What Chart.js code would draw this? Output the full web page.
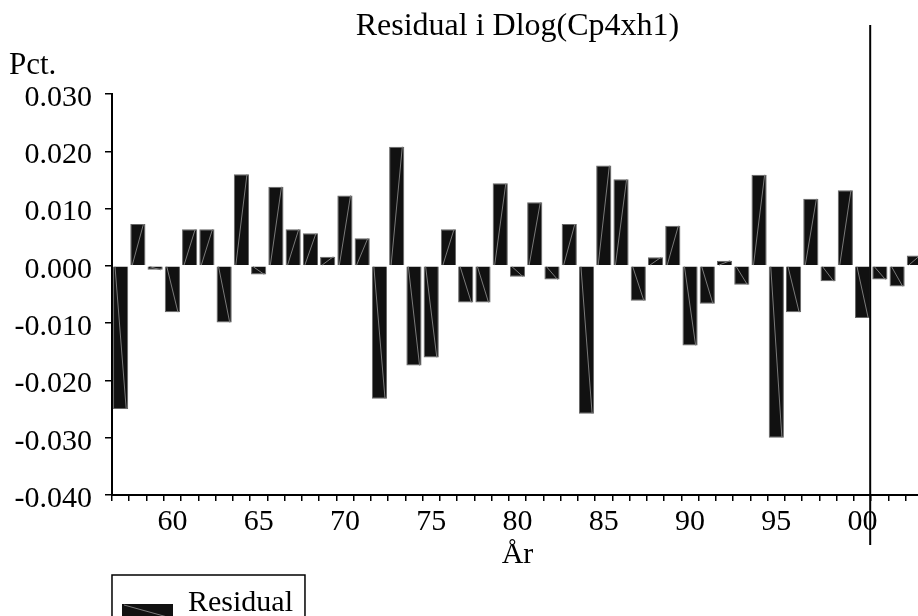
<!DOCTYPE html>
<html>
<head>
<meta charset="utf-8">
<title>Residual i Dlog(Cp4xh1)</title>
<script src="https://cdn.jsdelivr.net/npm/chart.js@4.4.0/dist/chart.umd.min.js"></script>
<style>
  html, body { margin: 0; padding: 0; background: #fff; overflow: hidden; }
</style>
</head>
<body>
<canvas id="chart" width="945" height="640"></canvas>
<script>
const years = [
  1957, 1958, 1959, 1960, 1961, 1962, 1963, 1964, 1965, 1966,
  1967, 1968, 1969, 1970, 1971, 1972, 1973, 1974, 1975, 1976,
  1977, 1978, 1979, 1980, 1981, 1982, 1983, 1984, 1985, 1986,
  1987, 1988, 1989, 1990, 1991, 1992, 1993, 1994, 1995, 1996,
  1997, 1998, 1999, 2000, 2001, 2002, 2003
];
const residuals = [
  -0.0250, 0.0073, -0.0007, -0.0081, 0.0064, 0.0064, -0.0099, 0.0160, -0.0015, 0.0138,
  0.0064, 0.0057, 0.0016, 0.0123, 0.0048, -0.0232, 0.0208, -0.0174, -0.0160, 0.0064,
  -0.0064, -0.0064, 0.0144, -0.0019, 0.0111, -0.0024, 0.0073, -0.0258, 0.0175, 0.0151,
  -0.0061, 0.0015, 0.0070, -0.0139, -0.0066, 0.0009, -0.0033, 0.0159, -0.0300, -0.0081,
  0.0117, -0.0027, 0.0132, -0.0091, -0.0024, -0.0036, 0.0018
];
const labeledYears = [1960, 1965, 1970, 1975, 1980, 1985, 1990, 1995, 2000];
const markYear = 2000;

const serif = "'Liberation Serif', 'Times New Roman', serif";
Chart.defaults.font.family = serif;
Chart.defaults.font.size = 30;
Chart.defaults.color = '#000';

// diagonal hatch inside bars, the marker line, "Pct." and the framed legend
const decorations = {
  id: 'decorations',
  afterDatasetsDraw(chart) {
    const ctx = chart.ctx;
    const meta = chart.getDatasetMeta(0);
    ctx.save();
    ctx.strokeStyle = '#7a7a7a';
    ctx.lineWidth = 1;
    meta.data.forEach(bar => {
      const { x, y, base, width } = bar.getProps(['x', 'y', 'base', 'width'], true);
      ctx.beginPath();
      ctx.moveTo(x - width / 2 + 2, base);
      ctx.lineTo(x + width / 2 - 2, y);
      ctx.stroke();
    });
    ctx.restore();
  },
  afterDraw(chart) {
    const ctx = chart.ctx;
    const area = chart.chartArea;
    const meta = chart.getDatasetMeta(0);
    ctx.save();

    const mark = meta.data[years.indexOf(markYear)];
    const mx = mark.x + mark.width / 2;
    ctx.strokeStyle = '#000';
    ctx.lineWidth = 2;
    ctx.beginPath();
    ctx.moveTo(mx, 25);
    ctx.lineTo(mx, 545);
    ctx.stroke();

    ctx.font = '31px ' + serif;
    ctx.fillStyle = '#000';
    ctx.textBaseline = 'alphabetic';
    ctx.textAlign = 'left';
    ctx.fillText('Pct.', 9, 74);

    ctx.font = '30px ' + serif;
    const text = chart.data.datasets[0].label;
    const tw = ctx.measureText(text).width;
    const sx = area.left + 10, sy = 604, sw = 51, sh = 15;
    ctx.fillStyle = '#111';
    ctx.fillRect(sx, sy, sw, sh);
    ctx.strokeStyle = '#7a7a7a';
    ctx.lineWidth = 1;
    ctx.beginPath();
    ctx.moveTo(sx + 2, sy + 1);
    ctx.lineTo(sx + sw - 2, sy + sh - 1);
    ctx.stroke();
    ctx.fillStyle = '#000';
    ctx.fillText(text, sx + sw + 15, 611);
    ctx.strokeStyle = '#000';
    ctx.lineWidth = 1.5;
    ctx.strokeRect(area.left, 575, sw + 15 + tw + 22, 60);

    ctx.restore();
  }
};

const config = {
  type: 'bar',
  data: {
    labels: years,
    datasets: [{
      label: 'Residual',
      data: residuals,
      backgroundColor: '#111',
      borderColor: '#666',
      borderWidth: 1,
      barPercentage: 0.88,
      categoryPercentage: 1,
    }],
  },
  options: {
    responsive: false,
    animation: false,
    layout: {
      padding: { left: 1.5, right: 22, top: 0, bottom: 61 },
    },
    plugins: {
      legend: { display: false },
      tooltip: { enabled: false },
      title: {
        display: true,
        text: 'Residual i Dlog(Cp4xh1)',
        fullSize: false,
        color: '#000',
        font: { size: 32, weight: 'normal', lineHeight: 1.2 },
        padding: { top: 7, bottom: 48.6 },
      },
    },
    scales: {
      x: {
        type: 'category',
        offset: true,
        grid: {
          offset: true,
          drawOnChartArea: false,
          tickLength: 6,
          lineWidth: 1.5,
          color: '#000',
        },
        border: { color: '#000', width: 2 },
        ticks: {
          autoSkip: false,
          maxRotation: 0,
          minRotation: 0,
          padding: 6,
          font: { size: 30, lineHeight: 1 },
          callback: (value, index) => {
            const year = years[index];
            return labeledYears.includes(year) ? String(year).slice(2) : '';
          },
        },
        title: {
          display: true,
          text: 'År',
          font: { size: 30, lineHeight: 1.2 },
          padding: { top: -6, bottom: 6 },
        },
      },
      y: {
        min: -0.04,
        max: 0.03,
        grid: {
          drawOnChartArea: false,
          tickLength: 7,
          lineWidth: 1.5,
          color: '#000',
        },
        border: { color: '#000', width: 2 },
        ticks: {
          stepSize: 0.01,
          padding: 13,
          labelOffset: 4,
          font: { size: 30, lineHeight: 1 },
          callback: value => (Math.abs(value) < 1e-9 ? 0 : value).toFixed(3),
        },
      },
    },
  },
  plugins: [decorations],
};

new Chart(document.getElementById('chart').getContext('2d'), config);
</script>
</body>
</html>
